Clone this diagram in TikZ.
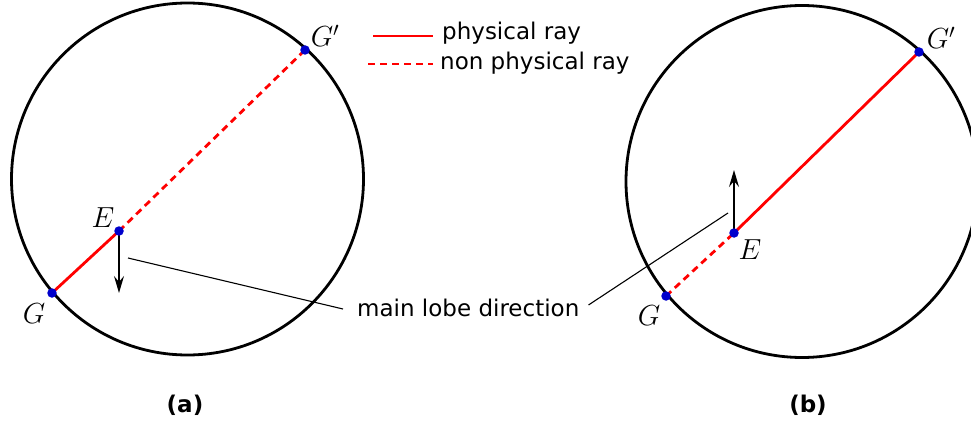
\RequirePackage{fix-cm}
\documentclass[tikz,border=0pt]{standalone}
\usepackage{fontspec}
\setsansfont{DejaVu Sans}
\usetikzlibrary{arrows.meta}
\begin{document}
\begin{tikzpicture}[x=1pt,y=-1pt,
  circ/.style={line width=2.8pt,black},
  phys/.style={line width=2.8pt,red},
  nonphys/.style={line width=2.8pt,red,dash pattern=on 7pt off 5pt},
  dot/.style={circle,fill=blue!80!black,inner sep=0pt,minimum size=9.5pt},
  lobe/.style={line width=1.5pt,-{Stealth[length=17pt,width=10pt,inset=6pt]}},
  leader/.style={line width=1.1pt},
  mlab/.style={font=\fontsize{29}{33}\selectfont},
  txt/.style={font=\sffamily\fontsize{23}{27}\selectfont,inner sep=0pt},
  captxt/.style={font=\sffamily\bfseries\fontsize{23}{27}\selectfont}]
\useasboundingbox (0,0) rectangle (971,428);
% (a)
\draw[circ] (187.5,179) circle[radius=176];
\coordinate (Ga) at (52,293);
\coordinate (Ea) at (119,231);
\coordinate (Gpa) at (305,50);
\coordinate (Ta) at (119,293);
\draw[phys] (Ga) -- (Ea);
\draw[nonphys] (Ea) -- (Gpa);
\draw[lobe] (Ea) -- (Ta);
\node[dot] (dGa) at (Ga) {};
\node[dot] (dEa) at (Ea) {};
\node[dot] (dGpa) at (Gpa) {};
\node[mlab] (lGa) at (34,314) {$G$};
\node[mlab] (lEa) at (103,218) {$E$};
\node[mlab] (lGpa) at (325,36) {$G'$};
% (b)
\draw[circ] (802,181.5) circle[radius=176];
\coordinate (Gb) at (666,296);
\coordinate (Eb) at (734,233);
\coordinate (Gpb) at (919,52);
\coordinate (Tb) at (734,170);
\draw[nonphys] (Gb) -- (Eb);
\draw[phys] (Eb) -- (Gpb);
\draw[lobe] (Eb) -- (Tb);
\node[dot] (dGb) at (Gb) {};
\node[dot] (dEb) at (Eb) {};
\node[dot] (dGpb) at (Gpb) {};
\node[mlab] (lGb) at (649,316) {$G$};
\node[mlab] (lEb) at (750,250) {$E$};
\node[mlab] (lGpb) at (941,38) {$G'$};
% leader
\node[txt,anchor=west] (mld) at (357,308) {main lobe direction};
\coordinate (la) at (128,258);
\coordinate (lb) at (728,213);
\draw[leader] (la) -- ([xshift=-14pt,yshift=-1pt]mld.west);
\draw[leader] (lb) -- ([xshift=9pt,yshift=3pt]mld.east);
% legend
\coordinate (l1s) at (373,36);
\coordinate (l1e) at (433,36);
\coordinate (l2s) at (368,64);
\coordinate (l2e) at (433,64);
\draw[phys] (l1s) -- (l1e);
\draw[nonphys] (l2s) -- (l2e);
\node[txt,anchor=west] (t1) at (442,33) {physical ray};
\node[txt,anchor=west] (t2) at (440,63) {non physical ray};
% captions
\node[captxt] (ca) at (185,405) {(a)};
\node[captxt] (cb) at (808,405) {(b)};
\end{tikzpicture}
\end{document}
